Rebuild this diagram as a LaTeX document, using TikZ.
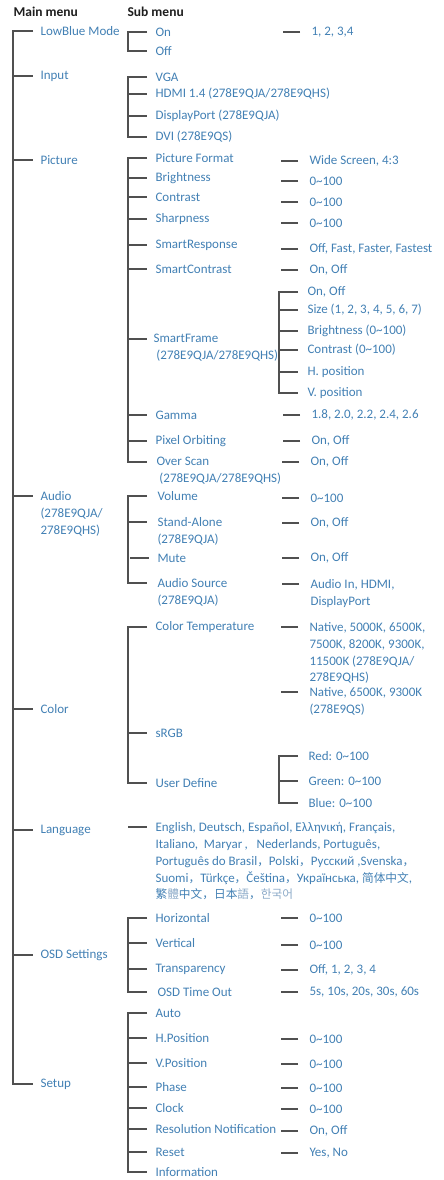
\documentclass[tikz,border=0pt]{standalone}
\usepackage{fontspec}
\setmainfont{Carlito}
\newfontfamily\cjkfont[Scale=0.9]{Noto Sans CJK SC}
\definecolor{menublue}{RGB}{66,128,180}
\definecolor{paleblue}{RGB}{140,170,200}
\definecolor{linegray}{RGB}{80,80,80}
\definecolor{headblack}{RGB}{30,30,30}
\newcommand{\zerohundred}{0\textasciitilde100}
\newcommand{\fwc}{{\cjkfont ，}}

\tikzset{every picture/.style={line width=1.1pt}}
\tikzset{
  head/.style={anchor=west, inner sep=0pt, text=headblack, font=\fontsize{13.5}{16}\selectfont\bfseries},
  item/.style={anchor=west, inner sep=0pt, align=left, text=menublue, font=\fontsize{13}{16.8}\selectfont},
  multi/.style={item, anchor=north west},
  branch/.style={draw=linegray, line width=1.1pt},
}

\begin{document}
\begin{tikzpicture}[x=1pt, y=-1pt]
    \useasboundingbox (0,0) rectangle (444,1180);
    \node[head] (mainhead) at (13,12) {Main menu};
    \node[head] (subhead) at (127,12) {Sub menu};

    % main menu
    \node[item] (lowblue) at (40,31) {LowBlue Mode};
    \node[item] (input) at (40,76) {Input};
    \node[item] (picture) at (40,160) {Picture};
    \node[multi] (audio) at (40,491) {Audio\\(278E9QJA/\\278E9QHS)};
    \node[item] (color) at (40,709) {Color};
    \node[item] (language) at (40,830) {Language};
    \node[item] (osd) at (40,955) {OSD Settings};
    \node[item] (setup) at (40,1084) {Setup};
    \draw[branch] ([xshift=-7]lowblue.west) -| ([xshift=-27]setup.west) -- ([xshift=-7]setup.west);
    \foreach \n in {input,picture,color,language,osd}
        \draw[branch] ([xshift=-27]\n.west) -- ([xshift=-7]\n.west);
    \draw[branch] ([xshift=-27,yshift=-5pt]audio.north west) -- ++(20,0);

    % LowBlue Mode
    \node[item] (on) at (155,32) {On};
    \node[item] (off) at (155,51) {Off};
    \node[item] (onval) at (311,32) {1, 2, 3,4};
    \draw[branch] ([xshift=-8]on.west) -| ([xshift=-27]off.west) -- ([xshift=-8]off.west);

    % Input
    \node[item] (vga) at (155,77) {VGA};
    \node[item] (hdmi) at (155,94) {HDMI 1.4 (278E9QJA/278E9QHS)};
    \node[item] (dp) at (155,116) {DisplayPort (278E9QJA)};
    \node[item] (dvi) at (155,137) {DVI (278E9QS)};
    \draw[branch] ([xshift=-8]vga.west) -| ([xshift=-27]dvi.west) -- ([xshift=-8]dvi.west);

    % Picture
    \node[item] (picfmt) at (155,158) {Picture Format};
    \node[item] (bright) at (155,178) {Brightness};
    \node[item] (contrast) at (155,197) {Contrast};
    \node[item] (sharp) at (155,219) {Sharpness};
    \node[item] (sresp) at (155,245) {SmartResponse};
    \node[item] (scontr) at (155,269) {SmartContrast};
    \node[multi] (sframe) at (153,334) {SmartFrame\\\ (278E9QJA/278E9QHS)};
    \node[item] (gamma) at (155,415) {Gamma};
    \node[item] (orbit) at (155,441) {Pixel Orbiting};
    \node[multi] (overscan) at (156,457) {Over Scan\\\ (278E9QJA/278E9QHS)};
    \coordinate (overscanT) at ([yshift=-5pt]overscan.north west);
    \draw[branch] ([xshift=-8]picfmt.west) -| ([xshift=-28]overscanT) -- ([xshift=-9]overscanT);
    \draw[branch] ([xshift=-25,yshift=-5pt]sframe.north west) -- ++(19,0);

    \node[item] (picfmtval) at (309,161) {Wide Screen, 4:3};
    \node[item] (brightval) at (309,181) {\zerohundred};
    \node[item] (contrastval) at (309,202) {\zerohundred};
    \node[item] (sharpval) at (309,223) {\zerohundred};
    \node[item] (srespval) at (309,249) {Off, Fast, Faster, Fastest};
    \node[item] (scontrval) at (309,270) {On, Off};
    \node[item] (gammaval) at (311,415) {1.8, 2.0, 2.2, 2.4, 2.6};
    \node[item] (orbitval) at (311,441) {On, Off};
    \node[item] (overscanval) at (310,462) {On, Off};

    % SmartFrame
    \node[item] (sfonoff) at (307,292) {On, Off};
    \node[item] (sfsize) at (307,310) {Size (1, 2, 3, 4, 5, 6, 7)};
    \node[item] (sfbright) at (307,331) {Brightness (\zerohundred)};
    \node[item] (sfcontr) at (307,350) {Contrast (\zerohundred)};
    \node[item] (sfhpos) at (307,372) {H. position};
    \node[item] (sfvpos) at (307,393) {V. position};
    \draw[branch] ([xshift=-9]sfonoff.west) -| ([xshift=-28]sfvpos.west) -- ([xshift=-9]sfvpos.west);
    \foreach \n in {sfsize,sfbright,sfcontr,sfhpos}
        \draw[branch] ([xshift=-28]\n.west) -- ([xshift=-9]\n.west);

    % Audio
    \node[item] (volume) at (157,496) {Volume};
    \node[multi] (standalone) at (157,517) {Stand-Alone\\(278E9QJA)};
    \node[item] (mute) at (157,558) {Mute};
    \node[multi] (asource) at (157,578) {Audio Source\\(278E9QJA)};
    \coordinate (asourceT) at ([yshift=-5pt]asource.north west);
    \draw[branch] ([xshift=-10]volume.west) -| ([xshift=-29]asourceT) -- ([xshift=-10]asourceT);
    \draw[branch] ([xshift=-29,yshift=-5pt]standalone.north west) -- ++(19,0);
    \node[item] (volumeval) at (310,498) {\zerohundred};
    \node[item] (standaloneval) at (310,523) {On, Off};
    \node[item] (muteval) at (310,558) {On, Off};
    \node[multi] (asourceval) at (310,579) {Audio In, HDMI,\\DisplayPort};

    % Color
    \node[item] (ctemp) at (155,627) {Color Temperature};
    \node[item] (srgb) at (155,733) {sRGB};
    \node[item] (userdef) at (155,783) {User Define};
    \draw[branch] ([xshift=-8]ctemp.west) -| ([xshift=-27]userdef.west) -- ([xshift=-8]userdef.west);
    \node[multi] (ctempval) at (309,622) {Native, 5000K, 6500K,\\7500K, 8200K, 9300K,\\11500K (278E9QJA/\\278E9QHS)};
    \node[multi] (ctempvalqs) at (309,687) {Native, 6500K, 9300K\\(278E9QS)};
    \node[item] (red) at (308,756) {Red: \zerohundred};
    \node[item] (green) at (308,781) {Green: \zerohundred};
    \node[item] (blue) at (308,803) {Blue: \zerohundred};
    \draw[branch] ([xshift=-10]red.west) -| ([xshift=-29]blue.west) -- ([xshift=-10]blue.west);
    \draw[branch] ([xshift=-29]green.west) -- ([xshift=-10]green.west);

    % Language
    \node[multi] (langs) at (155,822) {English, Deutsch, Español, Ελληνική, Français,\\
        Italiano,\ \ Maryar\,,\ \ \ Nederlands, Português,\\
        Português do Brasil\fwc Polski\fwc Русский ,Svenska\fwc\\
        Suomi\fwc Türkçe\fwc Čeština\fwc Українська, {\cjkfont 简体中文},\\
        {\cjkfont 繁{\color{paleblue}體}中文，日本{\color{paleblue}語}，{\color{paleblue}한국어}}};
    \draw[branch] ([xshift=-27,yshift=-5pt]langs.north west) -- ++(19,0);

    % OSD Settings
    \node[item] (horiz) at (155,918) {Horizontal};
    \node[item] (vert) at (155,943) {Vertical};
    \node[item] (transp) at (155,969) {Transparency};
    \node[item] (timeout) at (157,992) {OSD Time Out};
    \draw[branch] ([xshift=-8]horiz.west) -| ([xshift=-29]timeout.west) -- ([xshift=-10]timeout.west);
    \node[item] (horizval) at (309,918) {\zerohundred};
    \node[item] (vertval) at (309,945) {\zerohundred};
    \node[item] (transpval) at (309,970) {Off, 1, 2, 3, 4};
    \node[item] (timeoutval) at (309,992) {5s, 10s, 20s, 30s, 60s};

    % Setup
    \node[item] (auto) at (155,1013) {Auto};
    \node[item] (hpos) at (155,1038) {H.Position};
    \node[item] (vpos) at (155,1063) {V.Position};
    \node[item] (phase) at (155,1087) {Phase};
    \node[item] (clock) at (155,1108) {Clock};
    \node[item] (resnote) at (155,1129) {Resolution Notification};
    \node[item] (reset) at (155,1152) {Reset};
    \node[item] (info) at (155,1172) {Information};
    \draw[branch] ([xshift=-8]auto.west) -| ([xshift=-27]info.west) -- ([xshift=-8]info.west);
    \node[item] (hposval) at (309,1039) {\zerohundred};
    \node[item] (vposval) at (309,1064) {\zerohundred};
    \node[item] (phaseval) at (309,1088) {\zerohundred};
    \node[item] (clockval) at (309,1109) {\zerohundred};
    \node[item] (resnoteval) at (309,1131) {On, Off};
    \node[item] (resetval) at (309,1153) {Yes, No};

    % sub menu ticks
    \foreach \n in {hdmi,dp,bright,contrast,sharp,sresp,scontr,gamma,orbit,mute,srgb,vert,transp,hpos,vpos,phase,clock,resnote,reset}
        \draw[branch] ([xshift=-27]\n.west) -- ([xshift=-8]\n.west);

    % value ticks
    \foreach \n in {onval,picfmtval,brightval,contrastval,sharpval,srespval,scontrval,gammaval,orbitval,overscanval,volumeval,standaloneval,muteval,horizval,vertval,transpval,timeoutval,hposval,vposval,phaseval,clockval,resnoteval,resetval}
        \draw[branch] ([xshift=-11]\n.west) -- ([xshift=-28]\n.west);
    \foreach \n in {asourceval,ctempval,ctempvalqs}
        \draw[branch] ([xshift=-11,yshift=-5pt]\n.north west) -- ++(-17,0);
\end{tikzpicture}
\end{document}
